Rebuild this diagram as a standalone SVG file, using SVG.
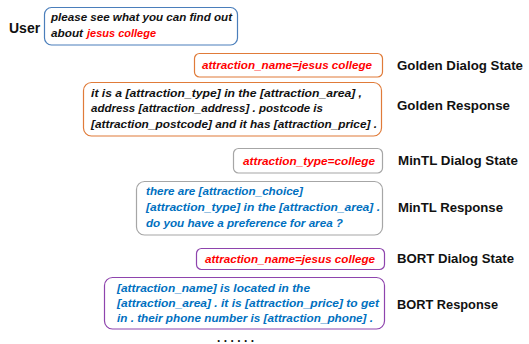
<svg xmlns="http://www.w3.org/2000/svg" width="529" height="344" viewBox="0 0 529 344">
<style>
.box{fill:#fff;stroke-width:1.2}
.u{stroke:#4a7ebb}
.g{stroke:#e07b39}
.m{stroke:#a6a6a6}
.b{stroke:#8e44ad}
.t{font-family:"Liberation Sans",Arial,sans-serif;font-weight:bold;font-style:italic;font-size:11px}
.k{fill:#111}
.r{fill:#ff0000}
.bl{fill:#0070c0}
.lab{font-family:"Liberation Sans",Arial,sans-serif;font-weight:bold;font-size:13px;fill:#111}
</style>
<rect width="529" height="344" fill="#fff"/>
<g id="user">
<text class="lab" x="9" y="33" style="font-size:14px">User</text>
<rect class="box u" x="44.5" y="7.5" width="193" height="37.5" rx="7"/>
<text class="t k" x="51" y="21" textLength="181" lengthAdjust="spacingAndGlyphs">please see what you can find out</text>
<text class="t k" x="51" y="37" textLength="32" lengthAdjust="spacingAndGlyphs">about</text>
<text class="t r" x="87" y="37" textLength="69" lengthAdjust="spacingAndGlyphs">jesus college</text>
</g>
<g id="golden-state">
<rect class="box g" x="194.5" y="53.5" width="188" height="23.5" rx="5"/>
<text class="t r" x="202" y="69" textLength="170" lengthAdjust="spacingAndGlyphs">attraction_name=jesus college</text>
<text class="lab" x="397" y="70" textLength="126" lengthAdjust="spacingAndGlyphs">Golden Dialog State</text>
</g>
<g id="golden-response">
<rect class="box g" x="83.5" y="82.5" width="298" height="53.5" rx="8"/>
<text class="t k" x="91" y="97" textLength="271" lengthAdjust="spacingAndGlyphs">it is a [attraction_type] in the [attraction_area] ,</text>
<text class="t k" x="91" y="112" textLength="232" lengthAdjust="spacingAndGlyphs">address [attraction_address] . postcode is</text>
<text class="t k" x="91" y="127.5" textLength="286" lengthAdjust="spacingAndGlyphs">[attraction_postcode] and it has [attraction_price] .</text>
<text class="lab" x="397" y="110" textLength="113" lengthAdjust="spacingAndGlyphs">Golden Response</text>
</g>
<g id="mintl-state">
<rect class="box m" x="233.5" y="148.5" width="149" height="24.5" rx="5"/>
<text class="t r" x="243" y="165" textLength="132" lengthAdjust="spacingAndGlyphs">attraction_type=college</text>
<text class="lab" x="398" y="165" textLength="120" lengthAdjust="spacingAndGlyphs">MinTL Dialog State</text>
</g>
<g id="mintl-response">
<rect class="box m" x="136.5" y="181.5" width="246" height="53.5" rx="8"/>
<text class="t bl" x="146" y="195" textLength="157" lengthAdjust="spacingAndGlyphs">there are [attraction_choice]</text>
<text class="t bl" x="146" y="211" textLength="234" lengthAdjust="spacingAndGlyphs">[attraction_type] in the [attraction_area] .</text>
<text class="t bl" x="146" y="227" textLength="197" lengthAdjust="spacingAndGlyphs">do you have a preference for area ?</text>
<text class="lab" x="398" y="212" textLength="105" lengthAdjust="spacingAndGlyphs">MinTL Response</text>
</g>
<g id="bort-state">
<rect class="box b" x="196.5" y="248.5" width="188" height="21" rx="5"/>
<text class="t r" x="205" y="263" textLength="170" lengthAdjust="spacingAndGlyphs">attraction_name=jesus college</text>
<text class="lab" x="397" y="263" textLength="117" lengthAdjust="spacingAndGlyphs">BORT Dialog State</text>
</g>
<g id="bort-response">
<rect class="box b" x="104.5" y="277.5" width="280" height="51.5" rx="8"/>
<text class="t bl" x="117" y="292" textLength="193" lengthAdjust="spacingAndGlyphs">[attraction_name] is located in the</text>
<text class="t bl" x="117" y="307" textLength="262" lengthAdjust="spacingAndGlyphs">[attraction_area] . it is [attraction_price] to get</text>
<text class="t bl" x="117" y="322" textLength="256" lengthAdjust="spacingAndGlyphs">in . their phone number is [attraction_phone] .</text>
<text class="lab" x="397" y="309" textLength="101" lengthAdjust="spacingAndGlyphs">BORT Response</text>
</g>
<g id="connectors"></g>
<text class="lab" x="217" y="342" textLength="37" lengthAdjust="spacing" style="font-size:12px">......</text>
</svg>
